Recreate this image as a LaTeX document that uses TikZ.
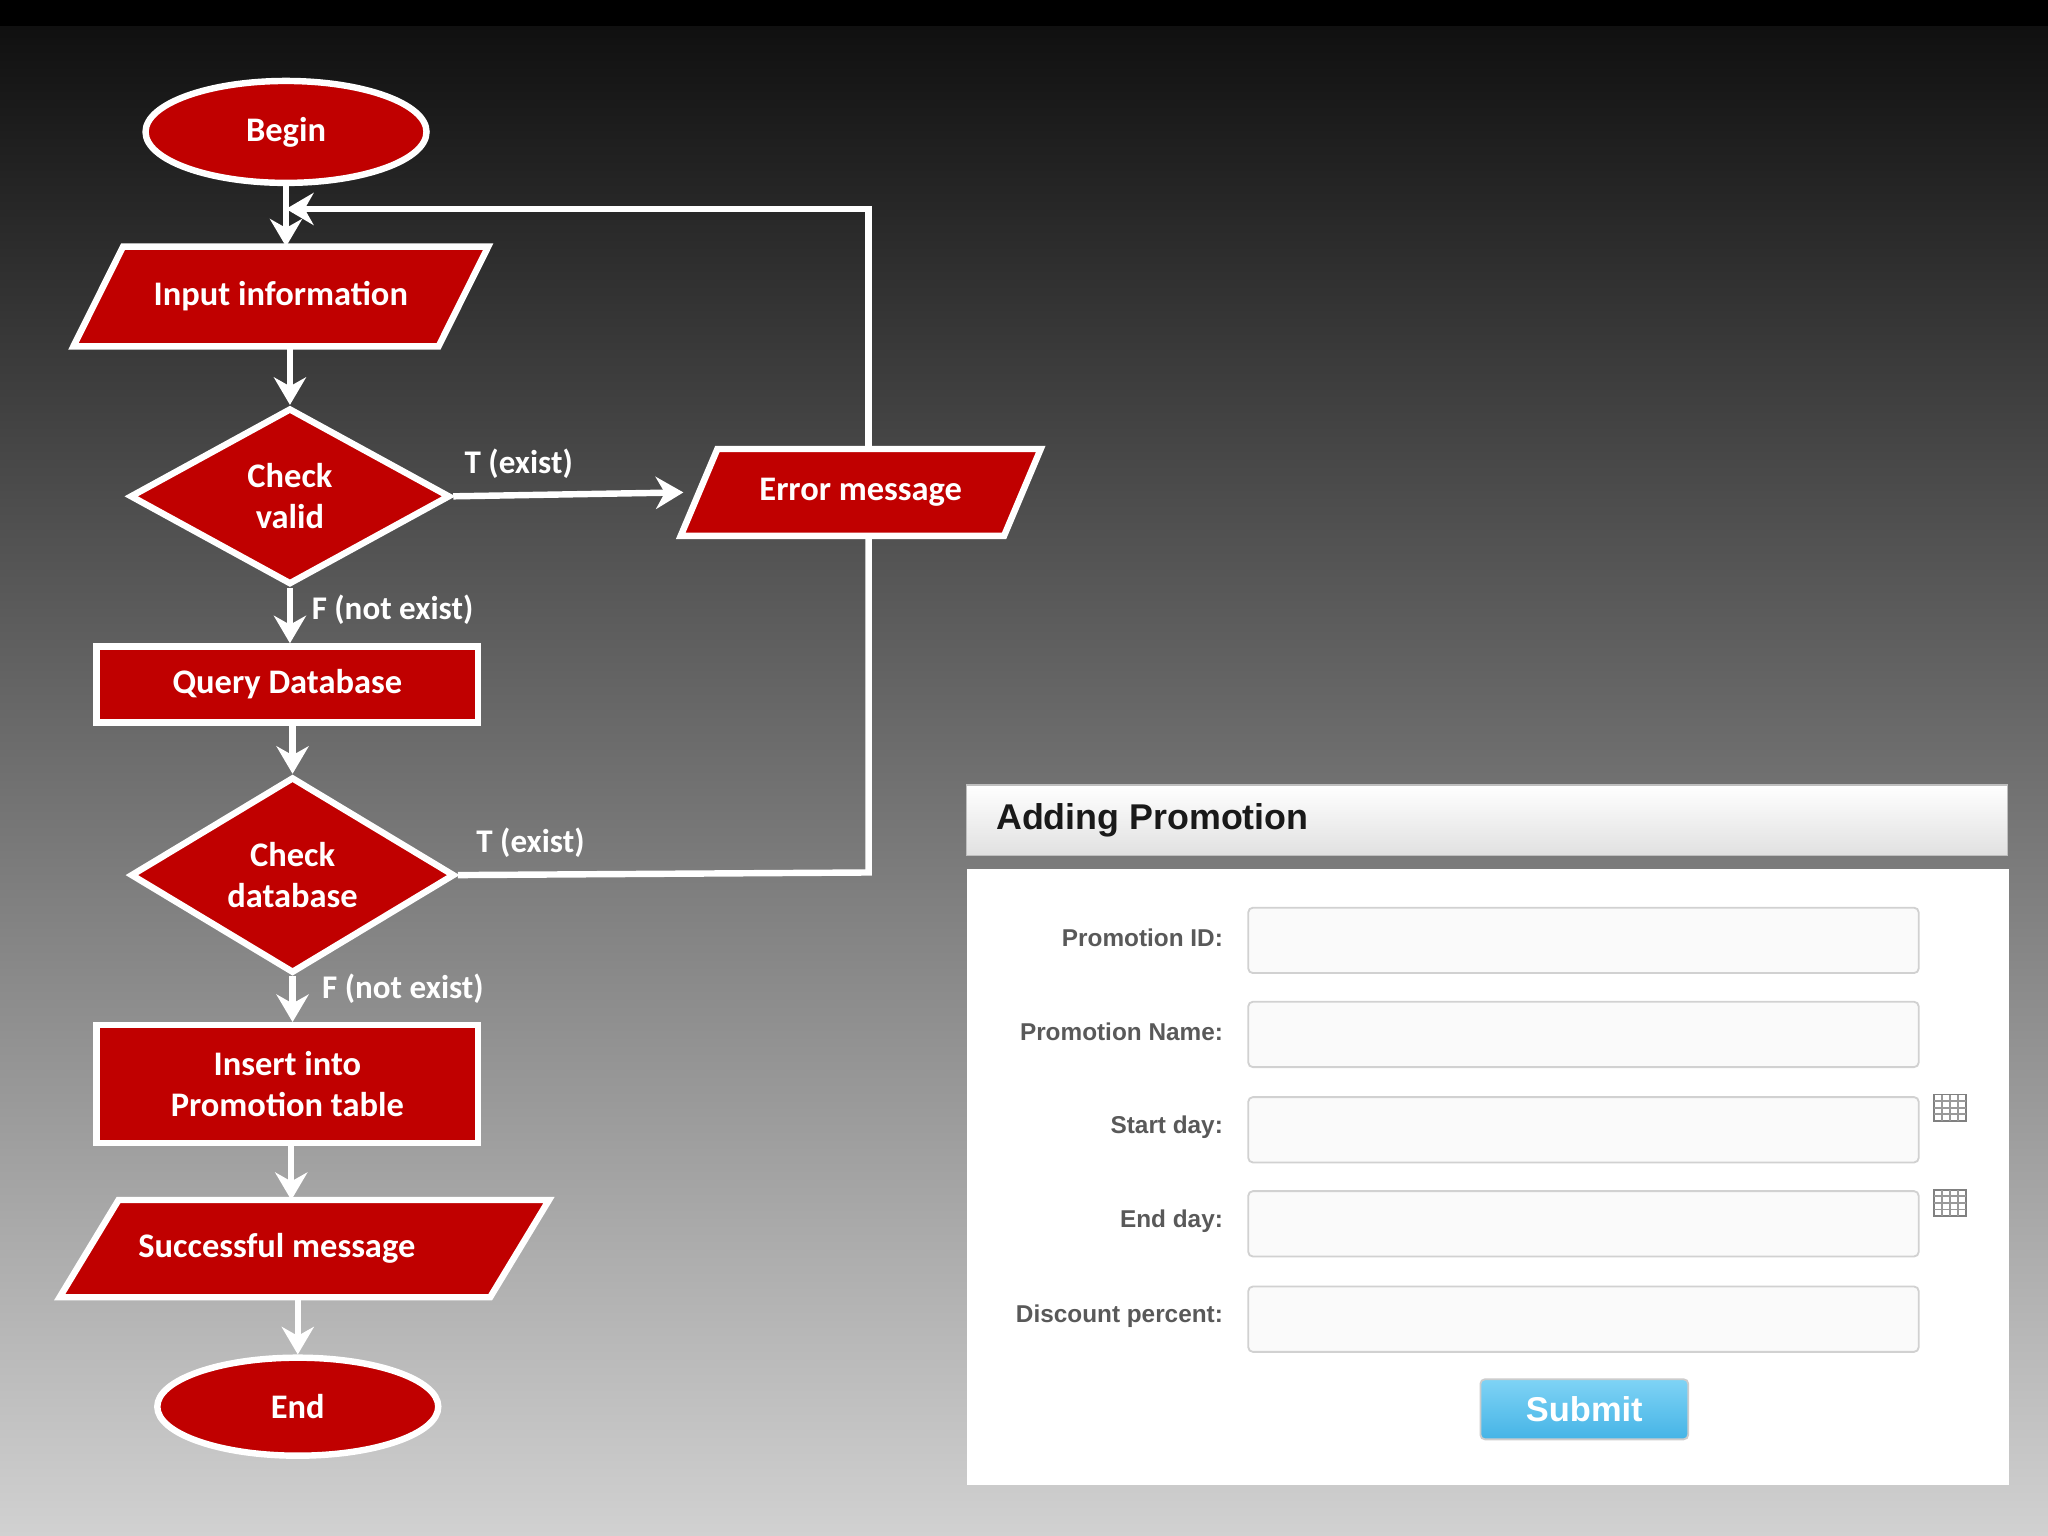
\documentclass[tikz,border=0pt]{standalone}
\usepackage{fontspec}
\setmainfont{Carlito}
\newfontfamily\formfont{Liberation Sans}
\usetikzlibrary{shapes.geometric,arrows.meta,backgrounds}
\definecolor{fred}{HTML}{C00000}
\definecolor{btop}{HTML}{7FD3F5}
\definecolor{bbot}{HTML}{45B4E6}
\tikzset{
  x=0.01cm,y=-0.01cm,
  fl/.style={draw=white,line width=1.4pt,fill=fred,text=white,font=\fontsize{7.5}{9}\selectfont\bfseries,align=center},
  ptext/.style={text=white,font=\fontsize{7.5}{9}\selectfont\bfseries,align=center,inner sep=0pt},
  pbox/.style={draw=white,line width=1.4pt,fill=fred,line join=miter},
  conn/.style={draw=white,line width=1.4pt,-{Stealth[length=6pt,width=7pt]}},
  plain/.style={draw=white,line width=1.4pt},
  lbl/.style={anchor=west,inner sep=0pt,text=white,font=\fontsize{7.2}{9}\selectfont\bfseries},
  flab/.style={anchor=east,inner sep=0pt,text=black!65,font=\formfont\fontsize{5.3}{7}\selectfont\bfseries},
  field/.style={draw=black!18,fill=black!2,rounded corners=1pt,minimum width=5.13cm,minimum height=0.5cm,anchor=west,inner sep=0pt},
  cal/.style={draw=black!50,fill=white,minimum width=0.24cm,minimum height=0.2cm,inner sep=0pt}
}
\newcommand{\parabox}[2]{% node name, offset
  \begin{scope}[on background layer]
  \filldraw[pbox] ([xshift=-#2*0.005cm]#1.south west) -- ([xshift=#2*0.005cm]#1.north west) -- ([xshift=#2*0.005cm]#1.north east) -- ([xshift=-#2*0.005cm]#1.south east) -- cycle;
  \end{scope}}
\begin{document}
\begin{tikzpicture}
\useasboundingbox (0,0) rectangle (1568,1176);
\begin{scope}[on background layer]
\shade[top color=black!95,bottom color=black!18] (0,0) rectangle (1568,1176);
\fill[black] (0,0) rectangle (1568,20);
\end{scope}
% flowchart
\node[fl,ellipse,minimum width=2.15cm,minimum height=0.78cm] (begin) at (219,101) {Begin};
\node[ptext,minimum width=2.78cm,minimum height=0.75cm] (input) at (215,227) {Input information};
\parabox{input}{38}
\node[fl,diamond,minimum width=2.45cm,minimum height=1.35cm,inner sep=0pt] (cv) at (222,380) {Check\\valid};
\node[ptext,minimum width=2.46cm,minimum height=0.65cm] (err) at (659,377) {Error message};
\parabox{err}{28}
\node[fl,rectangle,minimum width=2.92cm,minimum height=0.58cm] (qd) at (220,524) {Query Database};
\node[fl,diamond,minimum width=2.48cm,minimum height=1.34cm,inner sep=0pt] (cd) at (224,670) {Check\\database};
\node[fl,rectangle,minimum width=2.92cm,minimum height=0.9cm] (ins) at (220,830) {Insert into\\Promotion table};
\node[ptext,minimum width=3.28cm,minimum height=0.73cm] (succ) at (233,956) {};
\node[ptext] (succt) at (212,956) {Successful message};
\parabox{succ}{45}
\node[fl,ellipse,minimum width=2.15cm,minimum height=0.75cm] (end) at (228,1077) {End};
\coordinate (loopA) at (665,160);
\coordinate (loopB) at (219,160);
\coordinate (cdr) at (665,668);
\draw[conn] (begin.south) -- (input.north -| begin.south);
\draw[conn] (input.south -| cv.north) -- (cv.north);
\draw[conn] (cv.east) -- ([xshift=-0.12cm]err.west);
\draw[conn] (cv.south) -- (qd.north -| cv.south);
\draw[conn] (qd.south -| cd.north) -- (cd.north);
\draw[conn] (cd.south) -- (ins.north -| cd.south);
\draw[conn] (ins.south -| 223,0) -- (succ.north -| 223,0);
\draw[conn] (succ.south -| end.north) -- (end.north);
\draw[conn] (err.north -| loopA) -- (loopA) -- (loopB);
\draw[plain] (cd.east) -- (cdr) -- (err.south -| cdr);
\node[lbl] (l1) at (355,355) {T (exist)};
\node[lbl] (l2) at (238,467) {F (not exist)};
\node[lbl] (l3) at (364,645) {T (exist)};
\node[lbl] (l4) at (246,757) {F (not exist)};
% form
\shade[top color=white,bottom color=black!12,draw=black!25] (740,601) rectangle (1537,655);
\node[anchor=west,inner sep=0pt,font=\formfont\fontsize{7.8}{10}\selectfont\bfseries,text=black!90] (title) at (762,628) {Adding Promotion};
\fill[white] (740,665) rectangle (1538,1137);
\foreach \y/\t [count=\i] in {718/Promotion ID:,790/Promotion Name:,863/Start day:,935/End day:,1008/Discount percent:}{
  \node[flab] (lab\i) at (937,\y) {\t};
  \node[field] (fld\i) at (955,\y+2) {};
}
\node[cal] (cal1) at (1493,848) {};
\node[cal] (cal2) at (1493,921) {};
\draw[black!40] (1481,843)--(1505,843) (1481,848)--(1505,848) (1481,853)--(1505,853) (1487,838)--(1487,858) (1493,838)--(1493,858) (1499,838)--(1499,858);
\draw[black!40] (1481,916)--(1505,916) (1481,921)--(1505,921) (1481,926)--(1505,926) (1487,911)--(1487,931) (1493,911)--(1493,931) (1499,911)--(1499,931);
\node[draw=black!20,top color=btop,bottom color=bbot,rounded corners=1pt,minimum width=1.59cm,minimum height=0.46cm,text=white,font=\formfont\fontsize{7.5}{9}\selectfont\bfseries] (submit) at (1213,1079) {Submit};
\end{tikzpicture}
\end{document}
